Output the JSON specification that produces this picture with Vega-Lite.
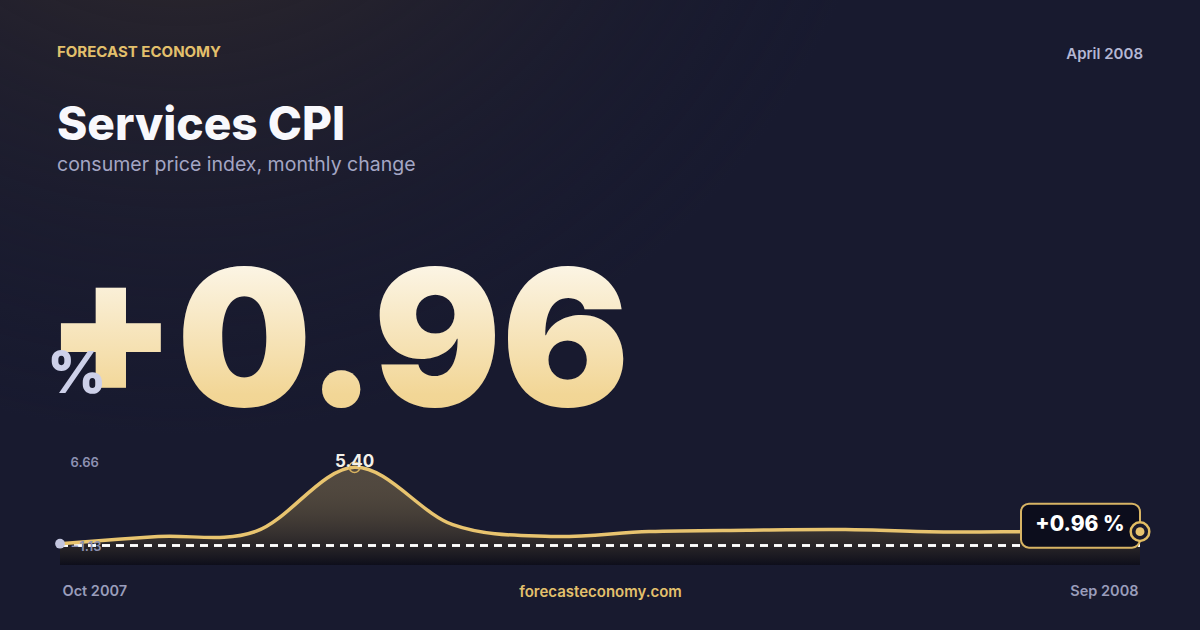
{
  "$schema": "https://vega.github.io/schema/vega-lite/v6.json",
  "width": 1080,
  "height": 116,
  "autosize": {"type": "none"},
  "padding": {"left": 60, "right": 60, "top": 449, "bottom": 65},
  "background": "#181a2f",
  "config": {"view": {"stroke": null}, "font": "Inter", "text": {"font": "Inter"}},
  "data": {
    "values": [
      {"month": "Oct 2007", "value": 0.13},
      {"month": "Nov 2007", "value": 0.62},
      {"month": "Dec 2007", "value": 0.99},
      {"month": "Jan 2008", "value": 5.40},
      {"month": "Feb 2008", "value": 1.44},
      {"month": "Mar 2008", "value": 0.63},
      {"month": "Apr 2008", "value": 0.97},
      {"month": "May 2008", "value": 1.06},
      {"month": "Jun 2008", "value": 1.10},
      {"month": "Jul 2008", "value": 0.94},
      {"month": "Aug 2008", "value": 0.97},
      {"month": "Sep 2008", "value": 0.96, "callout": "+0.96 %"}
    ]
  },
  "encoding": {
    "x": {
      "field": "month", "type": "ordinal", "sort": null,
      "scale": {"type": "point", "padding": 0, "domain": ["Oct 2007","Nov 2007","Dec 2007","Jan 2008","Feb 2008","Mar 2008","Apr 2008","May 2008","Jun 2008","Jul 2008","Aug 2008","Sep 2008"]},
      "axis": {
        "values": ["Oct 2007", "Sep 2008"],
        "domain": false, "ticks": false, "tickSize": 0, "grid": false,
        "labelAngle": 0, "labelPadding": 26, "labelBaseline": "middle",
        "labelAlign": {"condition": {"test": "datum.value == 'Oct 2007'", "value": "left"}, "value": "right"},
        "labelOffset": {"condition": {"test": "datum.value == 'Oct 2007'", "value": 2}, "value": -2},
        "labelColor": "#9a9dbb", "labelFontSize": 14.5, "labelFontWeight": 600, "labelFont": "Inter",
        "title": "forecasteconomy.com", "titleColor": "#e3c06c", "titleFontSize": 15, "titleFontWeight": 600, "titleFont": "Inter",
        "titleY": 26, "titleBaseline": "middle"
      }
    },
    "y": {
      "field": "value", "type": "quantitative",
      "scale": {"domain": [-1.34, 6.66], "zero": false, "nice": false},
      "axis": {
        "values": [-1.13, 6.66], "format": ".2f", "zindex": 1,
        "domain": false, "ticks": false, "tickSize": 0, "grid": false,
        "labelAlign": "left", "labelPadding": -10, "labelBaseline": "middle",
        "labelOffset": {"condition": {"test": "datum.value > 0", "value": 13}, "value": -15},
        "labelFlush": false, "labelOverlap": false, "labelBound": false,
        "labelColor": "#8d91b2", "labelFontSize": 13, "labelFontWeight": 600, "labelFont": "Inter",
        "title": null
      }
    }
  },
  "layer": [
    {
      "transform": [{"filter": {"field": "month", "equal": "Sep 2008"}}],
      "mark": {
        "type": "rect", "xOffset": -60, "x2Offset": 60, "yOffset": -449, "y2Offset": 65,
        "fill": {"gradient": "radial", "x1": 0.15, "y1": 0, "r1": 0, "x2": 0.15, "y2": 0, "r2": 0.6,
          "stops": [
            {"offset": 0, "color": "rgba(74,60,44,1)"},
            {"offset": 0.4, "color": "rgba(50,42,42,0.55)"},
            {"offset": 1, "color": "rgba(24,26,47,0)"}
          ]}
      },
      "encoding": {
        "x": {"datum": "Oct 2007", "type": "ordinal"},
        "x2": {"datum": "Sep 2008"},
        "y": {"datum": 6.66, "type": "quantitative"},
        "y2": {"datum": -1.34}
      }
    },
    {
      "mark": {
        "type": "area", "interpolate": "cardinal",
        "fill": {"gradient": "linear", "x1": 0, "y1": 0, "x2": 0, "y2": 1,
          "stops": [
            {"offset": 0, "color": "rgba(232,196,111,0.27)"},
            {"offset": 1, "color": "rgba(8,8,16,0.65)"}
          ]}
      },
      "encoding": {"y2": {"datum": -1.34}}
    },
    {
      "mark": {"type": "rule", "color": "#ffffff", "strokeDash": [8, 6], "strokeWidth": 1.5, "opacity": 0.85},
      "encoding": {"x": {"datum": "Oct 2007", "type": "ordinal"}, "x2": {"datum": "Sep 2008"}, "y": {"datum": 0, "type": "quantitative"}}
    },
    {
      "mark": {"type": "line", "interpolate": "cardinal", "color": "#e8c46f", "strokeWidth": 3.5}
    },
    {
      "transform": [{"filter": {"field": "month", "equal": "Oct 2007"}}],
      "mark": {"type": "point", "filled": true, "color": "#c3c6df", "size": 95, "opacity": 1}
    },
    {
      "transform": [{"filter": {"field": "month", "equal": "Jan 2008"}}],
      "mark": {"type": "point", "filled": false, "color": "#d9b35f", "size": 110, "strokeWidth": 1.5, "opacity": 1}
    },
    {
      "transform": [{"filter": {"field": "month", "equal": "Jan 2008"}}],
      "mark": {"type": "text", "dy": -5, "color": "#f4f1ea", "fontSize": 17, "fontWeight": 700, "baseline": "middle"},
      "encoding": {"text": {"field": "value", "type": "quantitative", "format": ".2f"}}
    },
    {
      "transform": [{"filter": {"field": "month", "equal": "Sep 2008"}}],
      "mark": {"type": "rect", "xOffset": -119, "x2Offset": 0, "yOffset": -28, "y2Offset": 16,
        "fill": "#0c0d1c", "stroke": "#d7b464", "strokeWidth": 2, "cornerRadius": 8},
      "encoding": {"x2": {"field": "month"}, "y2": {"field": "value"}}
    },
    {
      "transform": [{"filter": {"field": "month", "equal": "Sep 2008"}}],
      "mark": {"type": "text", "dx": -60, "dy": -7, "color": "#ffffff", "fontSize": 21, "fontWeight": 800, "baseline": "middle", "align": "center"},
      "encoding": {"text": {"field": "callout"}}
    },
    {
      "transform": [{"filter": {"field": "month", "equal": "Sep 2008"}}],
      "mark": {"type": "point", "filled": true, "fill": "#1a1a2c", "stroke": "#e2bd63", "strokeWidth": 2.5, "size": 346, "opacity": 1}
    },
    {
      "transform": [{"filter": {"field": "month", "equal": "Sep 2008"}}],
      "mark": {"type": "point", "filled": true, "color": "#e8c46f", "size": 80, "opacity": 1}
    },
    {
      "transform": [{"filter": {"field": "month", "equal": "Sep 2008"}}],
      "mark": {"type": "text", "text": "FORECAST ECONOMY", "align": "left", "baseline": "middle", "dx": -3, "dy": -397,
        "fontSize": 15, "fontWeight": 700, "color": "#e3c06c"},
      "encoding": {"x": {"datum": "Oct 2007", "type": "ordinal"}, "y": {"datum": 6.66, "type": "quantitative"}}
    },
    {
      "transform": [{"filter": {"field": "month", "equal": "Sep 2008"}}],
      "mark": {"type": "text", "text": "Services CPI", "align": "left", "baseline": "alphabetic", "dx": -3, "dy": -309,
        "fontSize": 46, "fontWeight": 800, "color": "#f8f8fc"},
      "encoding": {"x": {"datum": "Oct 2007", "type": "ordinal"}, "y": {"datum": 6.66, "type": "quantitative"}}
    },
    {
      "transform": [{"filter": {"field": "month", "equal": "Sep 2008"}}],
      "mark": {"type": "text", "text": "consumer price index, monthly change", "align": "left", "baseline": "alphabetic", "dx": -3, "dy": -278,
        "fontSize": 19.5, "fontWeight": 400, "color": "#a4a6c4"},
      "encoding": {"x": {"datum": "Oct 2007", "type": "ordinal"}, "y": {"datum": 6.66, "type": "quantitative"}}
    },
    {
      "transform": [{"filter": {"field": "month", "equal": "Sep 2008"}}],
      "mark": {"type": "text", "text": "April 2008", "align": "right", "baseline": "middle", "dx": 3, "dy": -395,
        "fontSize": 15, "fontWeight": 600, "color": "#b4b7d3"},
      "encoding": {"x": {"datum": "Sep 2008", "type": "ordinal"}, "y": {"datum": 6.66, "type": "quantitative"}}
    },
    {
      "transform": [{"filter": {"field": "month", "equal": "Sep 2008"}}],
      "mark": {"type": "text", "align": "left", "baseline": "alphabetic", "dx": -15, "dy": -43,
        "fontSize": 190, "fontWeight": 900,
        "fill": {"gradient": "linear", "x1": 0, "y1": 0, "x2": 0, "y2": 1,
          "stops": [{"offset": 0, "color": "#ffffff"}, {"offset": 0.75, "color": "#f2d696"}, {"offset": 1, "color": "#f0d28c"}]}},
      "encoding": {
        "x": {"datum": "Oct 2007", "type": "ordinal"},
        "y": {"datum": 6.66, "type": "quantitative"},
        "text": {"field": "value", "type": "quantitative", "format": "+.2f"}
      }
    },
    {
      "transform": [{"filter": {"field": "month", "equal": "Sep 2008"}}],
      "mark": {"type": "text", "text": "%", "align": "left", "baseline": "alphabetic", "dx": -13, "dy": -56,
        "fontSize": 58, "fontWeight": 800, "color": "#cdd0e9"},
      "encoding": {"x": {"datum": "Oct 2007", "type": "ordinal"}, "y": {"datum": 6.66, "type": "quantitative"}}
    }
  ]
}
